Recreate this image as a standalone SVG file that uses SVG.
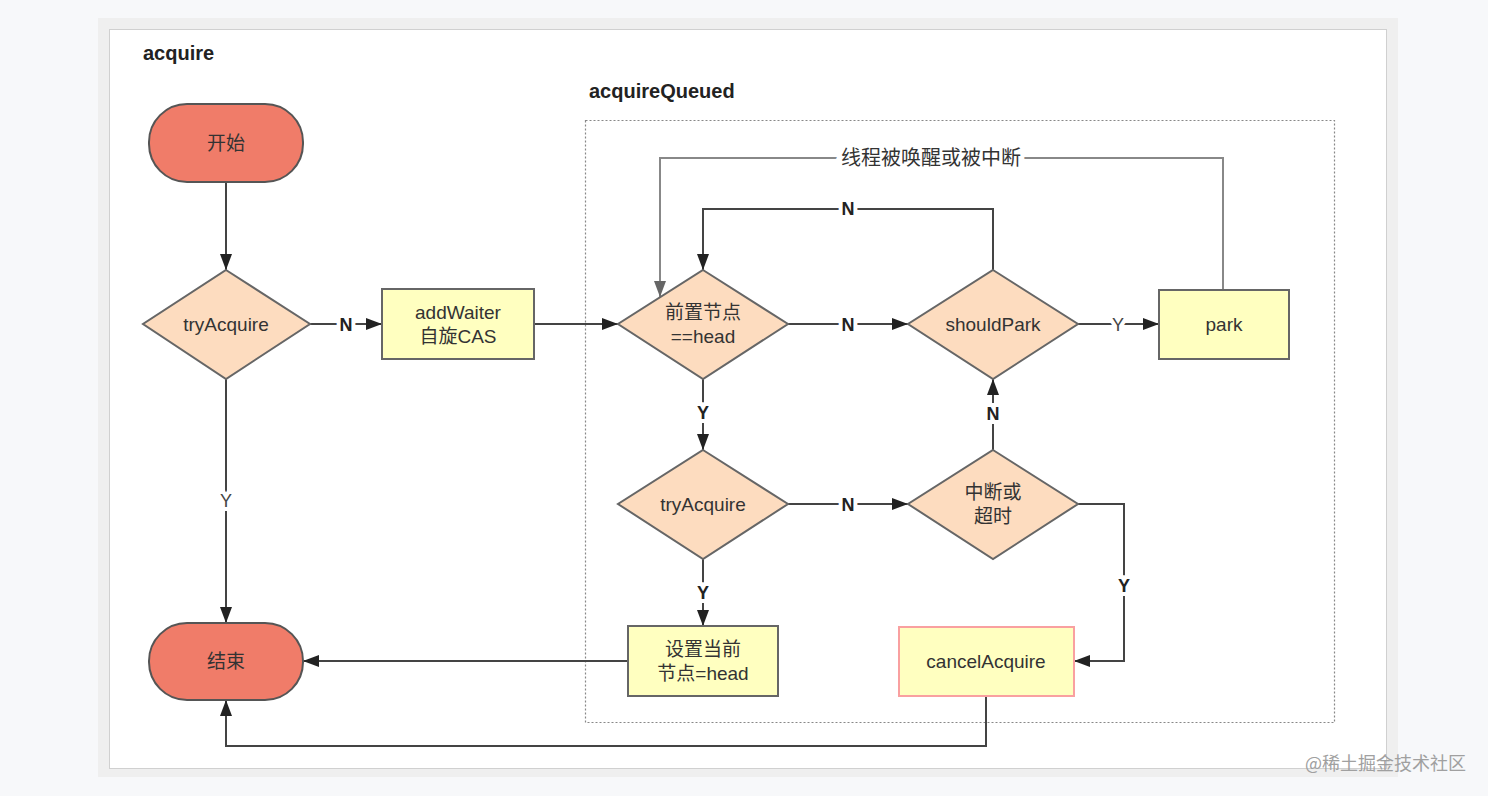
<svg xmlns="http://www.w3.org/2000/svg" width="1488" height="796" viewBox="0 0 1488 796">
<defs>
<style>
.term{fill:#f07c69;stroke:#555;stroke-width:2}
.dia{fill:#fddcbf;stroke:#666;stroke-width:2}
.box{fill:#ffffc0;stroke:#666;stroke-width:2}
.pbox{fill:#ffffc0;stroke:#f9a0a0;stroke-width:2}
.t{font-family:"Liberation Sans",Arial,"Noto Sans CJK SC",sans-serif;font-size:19px;fill:#333;text-anchor:middle;dominant-baseline:central}
.title{font-family:"Liberation Sans",Arial,sans-serif;font-size:20px;font-weight:bold;fill:#222}
.c{fill:none;stroke:#444;stroke-width:2}
.cg{fill:none;stroke:#888;stroke-width:2}
.lbl{font-family:"Liberation Sans",Arial,sans-serif;font-size:18px;font-weight:bold;fill:#222;text-anchor:middle;dominant-baseline:central;stroke:#fff;stroke-width:8;paint-order:stroke}
.lbln{font-weight:normal;fill:#444}
.lblz{font-family:"Liberation Sans",Arial,"Noto Sans CJK SC",sans-serif;font-size:20px;fill:#333;text-anchor:middle;dominant-baseline:central;stroke:#fff;stroke-width:8;paint-order:stroke}
</style>
<marker id="ah" markerUnits="userSpaceOnUse" markerWidth="16" markerHeight="12" refX="16" refY="6" orient="auto"><path d="M0,0 L16,6 L0,12 z" fill="#222"/></marker>
<marker id="ahg" markerUnits="userSpaceOnUse" markerWidth="16" markerHeight="12" refX="16" refY="6" orient="auto"><path d="M0,0 L16,6 L0,12 z" fill="#666"/></marker>
</defs>
<rect x="0" y="0" width="1488" height="796" fill="#f7f8fa"/>
<rect x="98" y="18" width="1300" height="759" fill="#efefef"/>
<rect x="109.5" y="29.5" width="1277" height="739" fill="#fff" stroke="#d0d0d0" stroke-width="1"/>
<text class="title" x="143" y="60">acquire</text>
<text class="title" x="589" y="98">acquireQueued</text>
<rect x="585.5" y="120.5" width="749" height="602" fill="none" stroke="#888" stroke-width="1.2" stroke-dasharray="2,2"/>

<g id="connectors">
<path class="c" d="M226,182 V270" marker-end="url(#ah)"/>
<path class="c" d="M310,324 H382" marker-end="url(#ah)"/>
<text class="lbl" x="346" y="325">N</text>
<path class="c" d="M534,324 H618" marker-end="url(#ah)"/>
<path class="c" d="M788,324 H908" marker-end="url(#ah)"/>
<text class="lbl" x="848" y="325">N</text>
<path class="c" d="M1078,324 H1159" marker-end="url(#ah)"/>
<text class="lbl lbln" x="1118" y="325">Y</text>
<path class="c" d="M993,270 V209 H703 V270" marker-end="url(#ah)"/>
<text class="lbl" x="848" y="209">N</text>
<path class="cg" d="M1223,290 V158 H660 V297" marker-end="url(#ahg)"/>
<text class="lblz" x="931" y="158">线程被唤醒或被中断</text>
<path class="c" d="M703,379 V450" marker-end="url(#ah)"/>
<text class="lbl" x="703" y="413">Y</text>
<path class="c" d="M788,504 H908" marker-end="url(#ah)"/>
<text class="lbl" x="848" y="505">N</text>
<path class="c" d="M993,450 V379" marker-end="url(#ah)"/>
<text class="lbl" x="993" y="414">N</text>
<path class="c" d="M1078,504 H1124 V661 H1074" marker-end="url(#ah)"/>
<text class="lbl" x="1124" y="586">Y</text>
<path class="c" d="M703,559 V626" marker-end="url(#ah)"/>
<text class="lbl" x="703" y="593">Y</text>
<path class="c" d="M628,661 H303" marker-end="url(#ah)"/>
<path class="c" d="M226,379 V623" marker-end="url(#ah)"/>
<text class="lbl lbln" x="226" y="501">Y</text>
<path class="c" d="M986,696 V746 H226 V700" marker-end="url(#ah)"/>
</g>

<g id="start"><rect class="term" x="149" y="104" width="154" height="78" rx="38"/><text class="t" x="226" y="143">开始</text></g>
<g id="tryAcquire1"><path class="dia" d="M226,270 L310,324 L226,379 L143,324 Z"/><text class="t" x="226" y="324">tryAcquire</text></g>
<g id="addWaiter"><rect class="box" x="382" y="289" width="152" height="70"/><text class="t" x="458" y="312">addWaiter</text><text class="t" x="458" y="336">自旋CAS</text></g>
<g id="prevHead"><path class="dia" d="M703,270 L788,324 L703,379 L618,324 Z"/><text class="t" x="703" y="312">前置节点</text><text class="t" x="703" y="336">==head</text></g>
<g id="shouldPark"><path class="dia" d="M993,270 L1078,324 L993,379 L908,324 Z"/><text class="t" x="993" y="324">shouldPark</text></g>
<g id="park"><rect class="box" x="1159" y="290" width="130" height="69"/><text class="t" x="1224" y="324">park</text></g>
<g id="tryAcquire2"><path class="dia" d="M703,450 L788,504 L703,559 L618,504 Z"/><text class="t" x="703" y="504">tryAcquire</text></g>
<g id="interrupt"><path class="dia" d="M993,450 L1078,504 L993,559 L908,504 Z"/><text class="t" x="993" y="492">中断或</text><text class="t" x="993" y="516">超时</text></g>
<g id="setHead"><rect class="box" x="628" y="626" width="150" height="70"/><text class="t" x="703" y="649">设置当前</text><text class="t" x="703" y="673">节点=head</text></g>
<g id="cancelAcquire"><rect class="pbox" x="899" y="627" width="175" height="69"/><text class="t" x="986" y="661">cancelAcquire</text></g>
<g id="end"><rect class="term" x="149" y="623" width="154" height="77" rx="38"/><text class="t" x="226" y="661">结束</text></g>

<text x="1305" y="770" font-family="'Noto Sans CJK SC','Liberation Sans',sans-serif" font-size="18" fill="#a0a0a0">@稀土掘金技术社区</text>
</svg>
